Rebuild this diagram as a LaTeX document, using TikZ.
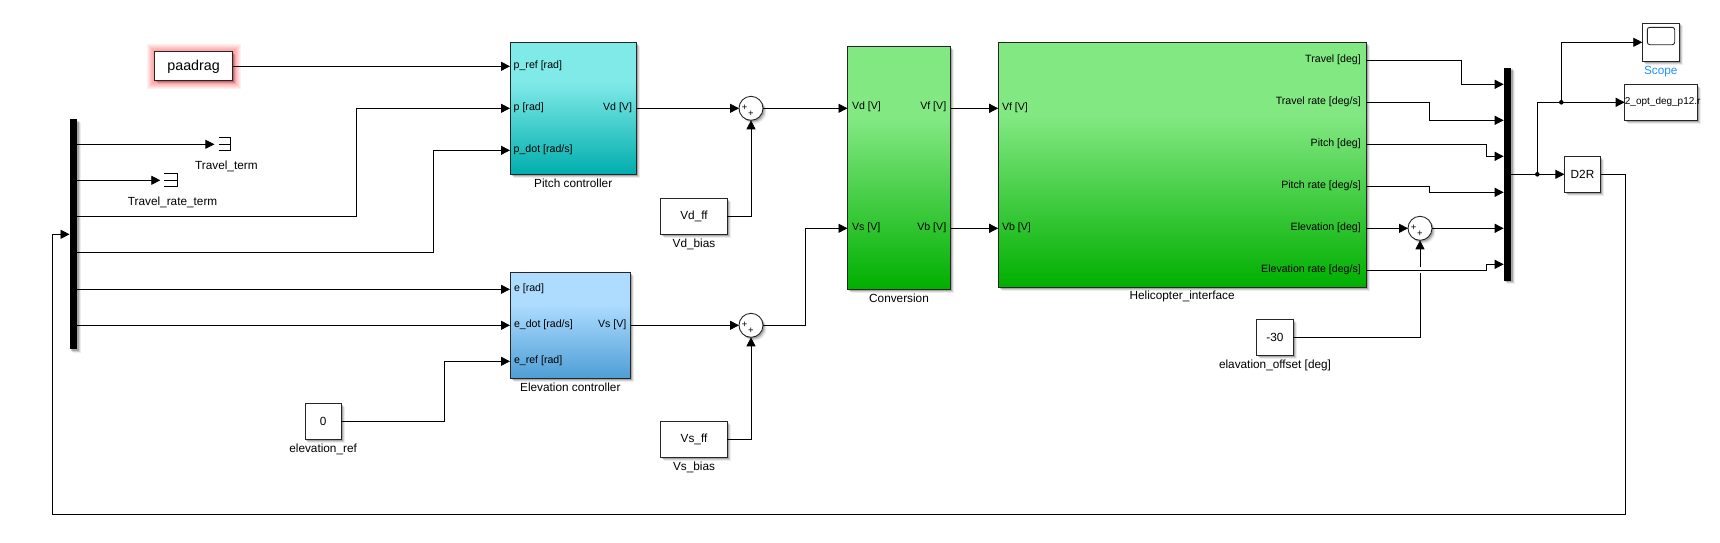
\documentclass[tikz,border=0pt]{standalone}
\usepackage{fontspec}
\setmainfont{Liberation Sans}
\usetikzlibrary{positioning, arrows.meta, shadows, calc}
\definecolor{pitchtop}{RGB}{128,234,232}
\definecolor{pitchbot}{RGB}{0,173,173}
\definecolor{elevtop}{RGB}{173,220,255}
\definecolor{elevbot}{RGB}{78,158,214}
\definecolor{greentop}{RGB}{130,232,130}
\definecolor{greenbot}{RGB}{0,175,0}
\definecolor{scopeblue}{RGB}{30,144,255}
\pgfdeclareverticalshading{pitchgrad}{100bp}{color(0bp)=(pitchbot); color(25bp)=(pitchbot); color(60bp)=(pitchtop); color(100bp)=(pitchtop)}
\pgfdeclareverticalshading{elevgrad}{100bp}{color(0bp)=(elevbot); color(25bp)=(elevbot); color(60bp)=(elevtop); color(100bp)=(elevtop)}
\pgfdeclareverticalshading{greengrad}{100bp}{color(0bp)=(greenbot); color(25bp)=(greenbot); color(60bp)=(greentop); color(100bp)=(greentop)}

\begin{document}
\begin{tikzpicture}[x=1pt, y=-1pt,
    softshadow/.style={drop shadow={shadow xshift=3.5pt, shadow yshift=-3.5pt, fill=black, opacity=0.07},
        drop shadow={shadow xshift=2.5pt, shadow yshift=-2.5pt, fill=black, opacity=0.12},
        drop shadow={shadow xshift=1.5pt, shadow yshift=-1.5pt, fill=black, opacity=0.2}},
    block/.style={rectangle, draw=black!85, line width=0.9pt, inner sep=0pt, outer sep=0pt, softshadow},
    plainbox/.style={block, fill=white, font=\fontsize{11.8}{14}\selectfont},
    bus/.style={rectangle, fill=black, inner sep=0pt, outer sep=0pt, minimum width=7.5pt, softshadow},
    sumblock/.style={circle, draw=black!85, fill=white, line width=0.9pt, minimum size=24pt, inner sep=0pt, outer sep=0pt, softshadow},
    sumsign/.style={inner sep=0pt, font=\fontsize{9.5}{9.5}\selectfont},
    portlabel/.style={inner sep=0pt, font=\fontsize{10.6}{12}\selectfont, text height=7.8pt, text depth=2.2pt},
    blocklabel/.style={inner sep=0pt, font=\fontsize{11.8}{14}\selectfont, text height=8.6pt, text depth=2.4pt},
    sig/.style={-{Triangle[length=9pt, width=9pt]}, line width=0.8pt},
    wire/.style={line width=0.8pt},
    glow/.style={preaction={draw=red, draw opacity=0.06, rounded corners=3pt, line width=#1}},
    glowbox/.style={plainbox, glow=16pt, glow=14pt, glow=12pt, glow=10pt, glow=8pt, glow=6pt, glow=4pt, glow=2pt},
]
    \useasboundingbox (0,0) rectangle (1720,542);

    % blocks
    \node[glowbox, minimum width=78pt, minimum height=29pt, font=\fontsize{14.3}{16}\selectfont] (paadrag) at (193.6,66.3) {paadrag};
    \node[block, shade, shading=pitchgrad, minimum width=126.4pt, minimum height=132.6pt] (pitch) at (573.2,108.3) {};
    \node[block, shade, shading=elevgrad, minimum width=120.6pt, minimum height=106pt] (elev) at (570.3,325.3) {};
    \node[block, shade, shading=greengrad, minimum width=103pt, minimum height=243pt] (conv) at (899,168) {};
    \node[block, shade, shading=greengrad, minimum width=367.8pt, minimum height=244.6pt] (heli) at (1182.1,165) {};
    \node[plainbox, minimum width=36.3pt, minimum height=36.3pt] (elevref) at (323.1,421.3) {0};
    \node[plainbox, minimum width=66.6pt, minimum height=36pt] (vdff) at (694,216.3) {Vd\_ff};
    \node[plainbox, minimum width=66.6pt, minimum height=36.3pt] (vsff) at (694,439.3) {Vs\_ff};
    \node[plainbox, minimum width=36.3pt, minimum height=36.3pt] (offset) at (1275,337.3) {-30};
    \node[plainbox, minimum width=36.3pt, minimum height=36.3pt] (d2r) at (1582.5,174.3) {D2R};
    \node[plainbox, minimum width=37pt, minimum height=38.7pt] (scope) at (1660.8,42.3) {};
    \node[draw=black!85, line width=0.9pt, rounded corners=2.5pt, minimum width=27.4pt, minimum height=17.4pt, inner sep=0pt] (screen) at (1661,36) {};
    \node[plainbox, minimum width=72.6pt, minimum height=36.3pt] (tofile) at (1661,102.3) {};
    \node[inner sep=0pt, anchor=west, font=\fontsize{10}{12}\selectfont] (tofilename) at (tofile.west) {2\_opt\_deg\_p12.r};
    \node[sumblock] (sum1) at (751,108.3) {};
    \node[sumblock] (sum2) at (751,325.3) {};
    \node[sumblock] (sum3) at (1420,228.3) {};
    \node[sumsign] (s1a) at (744.6,107.4) {+};
    \node[sumsign] (s1b) at (751,114) {+};
    \node[sumsign] (s2a) at (744.6,324.4) {+};
    \node[sumsign] (s2b) at (751,331) {+};
    \node[sumsign] (s3a) at (1413.6,227.4) {+};
    \node[sumsign] (s3b) at (1420,234) {+};
    \node[bus, minimum height=230pt] (busl) at (73.3,234.3) {};
    \node[bus, minimum height=213pt] (busr) at (1507.3,174.3) {};
    \node[inner sep=0pt, minimum width=16pt, minimum height=12.7pt] (tterm) at (222.6,144.3) {};
    \node[inner sep=0pt, minimum width=16.6pt, minimum height=12.7pt] (trterm) at (168.8,180.3) {};
    \node[circle, fill=black, minimum size=4.6pt, inner sep=0pt] (j1) at (1537.3,174.3) {};
    \node[circle, fill=black, minimum size=4.6pt, inner sep=0pt] (j2) at (1561.3,102.3) {};

    % terminators
    \draw[wire] ([xshift=4.4pt]tterm.north west) -| (tterm.south east) -- ([xshift=4.4pt]tterm.south west);
    \draw[wire] ([xshift=4.4pt]tterm.west) -- (tterm.east);
    \draw[wire] ([xshift=3.6pt]trterm.north west) -| (trterm.south east) -- ([xshift=3.6pt]trterm.south west);
    \draw[wire] ([xshift=3.6pt]trterm.west) -- (trterm.east);

    % labels below blocks
    \node[blocklabel, below=4.4pt of pitch] (pitchname) {Pitch controller};
    \node[blocklabel, below=4.4pt of elev] (elevname) {Elevation controller};
    \node[blocklabel, below=4.4pt of conv] (convname) {Conversion};
    \node[blocklabel, below=3.6pt of heli] (heliname) {Helicopter\_interface};
    \node[blocklabel, below=4.6pt of elevref] (elevrefname) {elevation\_ref};
    \node[blocklabel, below=4.6pt of vdff] (vdname) {Vd\_bias};
    \node[blocklabel, below=4.6pt of vsff] (vsname) {Vs\_bias};
    \node[blocklabel, below=4.6pt of offset] (offsetname) {elavation\_offset [deg]};
    \node[blocklabel, below=4.4pt of scope, text=scopeblue] (scopename) {Scope};
    \node[blocklabel, below=10pt of tterm, xshift=3.8pt] (ttermname) {Travel\_term};
    \node[blocklabel, below=10pt of trterm, xshift=3.8pt] (trtermname) {Travel\_rate\_term};

    % port labels
    \node[portlabel, anchor=west] (lpref) at (513.5,65.7) {p\_ref [rad]};
    \node[portlabel, anchor=west] (lp) at (513.5,107.7) {p [rad]};
    \node[portlabel, anchor=west] (lpdot) at (513.5,149.7) {p\_dot [rad/s]};
    \node[portlabel, anchor=east] (lvd) at (632.2,107.7) {Vd [V]};
    \node[portlabel, anchor=west] (le) at (513.8,288.7) {e [rad]};
    \node[portlabel, anchor=west] (ledot) at (513.8,324.3) {e\_dot [rad/s]};
    \node[portlabel, anchor=west] (leref) at (513.8,360.7) {e\_ref [rad]};
    \node[portlabel, anchor=east] (lvs) at (626.5,324.3) {Vs [V]};
    \node[portlabel, anchor=west] (lcvd) at (851.8,106.5) {Vd [V]};
    \node[portlabel, anchor=west] (lcvs) at (851.8,227.3) {Vs [V]};
    \node[portlabel, anchor=east] (lcvf) at (946.4,106.5) {Vf [V]};
    \node[portlabel, anchor=east] (lcvb) at (946.4,227.3) {Vb [V]};
    \node[portlabel, anchor=west] (lhvf) at (1001.8,107.3) {Vf [V]};
    \node[portlabel, anchor=west] (lhvb) at (1001.8,227.3) {Vb [V]};
    \node[portlabel, anchor=east] (lh1) at (1361,59.3) {Travel [deg]};
    \node[portlabel, anchor=east] (lh2) at (1361,101.3) {Travel rate [deg/s]};
    \node[portlabel, anchor=east] (lh3) at (1361,143.3) {Pitch [deg]};
    \node[portlabel, anchor=east] (lh4) at (1361,185.3) {Pitch rate [deg/s]};
    \node[portlabel, anchor=east] (lh5) at (1361,227.3) {Elevation [deg]};
    \node[portlabel, anchor=east] (lh6) at (1361,270) {Elevation rate [deg/s]};

    % ports
    \coordinate (bl1) at (77,144.3);
    \coordinate (bl2) at (77,180.3);
    \coordinate (bl3) at (77,216.3);
    \coordinate (bl4) at (77,252.3);
    \coordinate (bl5) at (77,289.3);
    \coordinate (bl6) at (77,325.3);
    \coordinate (ppref) at (510,66.3);
    \coordinate (pp) at (510,108.3);
    \coordinate (ppdot) at (510,150.3);
    \coordinate (pe) at (510,289.3);
    \coordinate (pedot) at (510,325.3);
    \coordinate (peref) at (510,361.3);
    \coordinate (cvd) at (847.5,108.3);
    \coordinate (cvs) at (847.5,228.3);
    \coordinate (cvf) at (950.5,108.3);
    \coordinate (cvb) at (950.5,228.3);
    \coordinate (hvf) at (998.2,108.3);
    \coordinate (hvb) at (998.2,228.3);
    \coordinate (ho1) at (1366,60.3);
    \coordinate (ho2) at (1366,102.3);
    \coordinate (ho3) at (1366,144.3);
    \coordinate (ho4) at (1366,186.3);
    \coordinate (ho5) at (1366,228.3);
    \coordinate (ho6) at (1366,270.3);
    \coordinate (br1) at (1503.7,84.3);
    \coordinate (br2) at (1503.7,120.3);
    \coordinate (br3) at (1503.7,156.3);
    \coordinate (br4) at (1503.7,192.3);
    \coordinate (br5) at (1503.7,228.3);
    \coordinate (br6) at (1503.7,264.3);
    \coordinate (fbcorner) at (52.6,514.3);
    \coordinate (gaplow) at (1420,273.3);
    \coordinate (gaphigh) at (1420,267.3);

    % connectors
    \draw[sig] (paadrag.east |- ppref) -- (ppref);
    \draw[sig] (bl1) -- (tterm.west);
    \draw[sig] (bl2) -- (trterm.west);
    \draw[sig] (bl3) -- ++(279.5,0) |- (pp);
    \draw[sig] (bl4) -- ++(356.5,0) |- (ppdot);
    \draw[sig] (bl5) -- (pe);
    \draw[sig] (bl6) -- (pedot);
    \draw[sig] (elevref.east) -- ++(103,0) |- (peref);
    \draw[sig] (pitch.east) -- (sum1.west);
    \draw[sig] (elev.east) -- (sum2.west);
    \draw[sig] (vdff.east) -| (sum1.south);
    \draw[sig] (vsff.east) -| (sum2.south);
    \draw[sig] (sum1.east) -- (cvd);
    \draw[sig] (sum2.east) -- ++(42.7,0) |- (cvs);
    \draw[sig] (cvf) -- (hvf);
    \draw[sig] (cvb) -- (hvb);
    \draw[wire] (offset.east) -| (gaplow);
    \draw[sig] (gaphigh) -- (sum3.south);
    \draw[sig] (ho1) -- ++(95.3,0) |- (br1);
    \draw[sig] (ho2) -- ++(63.3,0) |- (br2);
    \draw[sig] (ho3) -- ++(120.7,0) |- (br3);
    \draw[sig] (ho4) -- ++(63.3,0) |- (br4);
    \draw[sig] (ho5) -- (sum3.west);
    \draw[sig] (sum3.east) -- (br5);
    \draw[sig] (ho6) -- ++(120.7,0) |- (br6);
    \draw[sig] (busr.east) -- (d2r.west);
    \draw[sig] (j1.center) |- (tofile.west);
    \draw[sig] (j2.center) |- (scope.west);
    \draw[sig] (d2r.east) -- ++(25,0) |- (fbcorner) |- (busl.west);
\end{tikzpicture}
\end{document}
